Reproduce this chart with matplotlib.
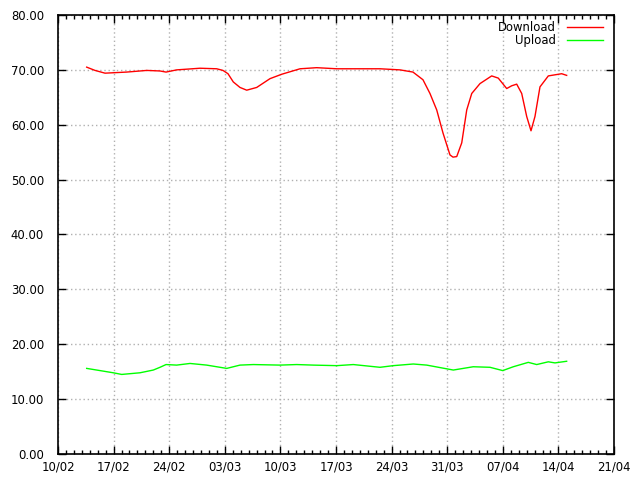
import matplotlib
matplotlib.use("Agg")
import matplotlib.pyplot as plt
import matplotlib.dates as mdates
import matplotlib.ticker as mticker
import pandas as pd

start = pd.Timestamp("2015-02-10")

# days since 10/02 and measured speeds
download_days = [3.61, 4.66, 5.92, 8.65, 11.17, 12.84, 13.60, 14.94, 17.88, 19.98,
                 20.77, 21.40, 22.07, 22.91, 23.76, 25.02, 26.69, 28.16, 30.47, 32.57,
                 35.09, 38.02, 40.54, 43.06, 44.69, 45.95, 46.83, 47.68, 48.47, 49.35,
                 49.73, 50.20, 50.83, 51.46, 52.09, 53.13, 54.60, 55.43, 56.49, 57.12,
                 57.75, 58.38, 59.01, 59.55, 60.05, 60.68, 61.73, 63.41, 64.04]
download = [70.5, 69.9, 69.4, 69.6, 69.9, 69.8, 69.6, 70.0, 70.3, 70.2,
            69.9, 69.3, 67.8, 66.8, 66.3, 66.8, 68.4, 69.2, 70.2, 70.4,
            70.2, 70.2, 70.2, 70.0, 69.6, 68.2, 65.7, 62.7, 58.5, 54.5,
            54.1, 54.2, 56.7, 62.7, 65.7, 67.5, 68.9, 68.5, 66.6, 67.1,
            67.4, 65.7, 61.5, 58.9, 61.5, 66.9, 68.9, 69.3, 69.0]

upload_days = [3.61, 5.29, 6.96, 8.02, 10.32, 12.00, 12.84, 13.60, 14.94, 16.62,
               18.72, 21.24, 22.91, 24.59, 27.95, 30.05, 32.14, 35.09, 37.18, 40.54,
               42.21, 44.73, 46.42, 49.77, 52.28, 54.39, 55.99, 57.32, 59.21, 60.27,
               61.73, 62.57, 64.04]
upload = [15.6, 15.2, 14.8, 14.5, 14.8, 15.3, 15.8, 16.3, 16.2, 16.5,
          16.2, 15.6, 16.2, 16.3, 16.2, 16.3, 16.2, 16.1, 16.3, 15.8,
          16.1, 16.4, 16.2, 15.3, 15.9, 15.8, 15.2, 15.9, 16.7, 16.3,
          16.8, 16.6, 16.9]

y_ticks = [0, 10, 20, 30, 40, 50, 60, 70, 80]

plt.rcParams['font.family'] = ['DejaVu Sans']
FS = 8.4

fig = plt.figure(figsize=(6.4, 4.8), dpi=100)
ax = fig.add_axes([58/640, 26/480, 556/640, 439/480])

dl_x = [start + pd.Timedelta(days=d) for d in download_days]
ul_x = [start + pd.Timedelta(days=d) for d in upload_days]

l1, = ax.plot(dl_x, download, color='#ff0000', lw=1, label='Download')
l2, = ax.plot(ul_x, upload, color='#00ff00', lw=1, label='Upload')

ax.set_xlim(start, start + pd.Timedelta(days=70))
ax.set_ylim(0, 80)
ax.set_yticks(y_ticks)
ax.yaxis.set_major_formatter(mticker.FormatStrFormatter('%.2f'))

ticks = [start + pd.Timedelta(days=7*i) for i in range(11)]
ax.set_xticks(ticks)
ax.xaxis.set_major_formatter(mdates.DateFormatter('%d/%m'))
ax.set_xticks([start + pd.Timedelta(days=i) for i in range(71)], minor=True)

ax.tick_params(which='both', direction='in', top=True, right=True, labelsize=FS,
               colors='black', width=1)
ax.tick_params(which='major', length=6)
ax.tick_params(axis='x', which='major', pad=5)
ax.tick_params(axis='y', which='major', pad=10)
ax.tick_params(which='minor', length=3)
ax.tick_params(axis='y', which='minor', left=False, right=False)

ax.grid(True, which='major', color='#b0b0b0', linestyle=(0, (1, 2)), linewidth=1)
for s in ax.spines.values():
    s.set_linewidth(1.2)
    s.set_color('black')

common = dict(frameon=False, markerfirst=False, fontsize=FS, handlelength=3.1,
              handletextpad=1.0, borderpad=0, borderaxespad=0, loc='center right')
leg1 = ax.legend([l1], ['Download'], bbox_to_anchor=(0.981, 0.972), **common)
ax.add_artist(leg1)
leg2 = ax.legend([l2], ['Upload'], bbox_to_anchor=(0.981, 0.941), **common)

fig.savefig('out.png', dpi=100)
